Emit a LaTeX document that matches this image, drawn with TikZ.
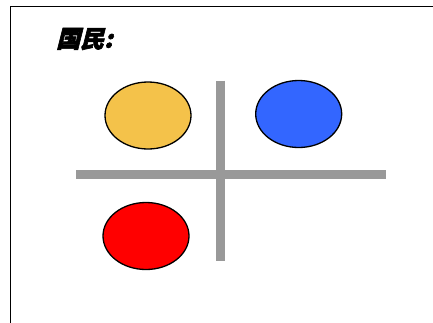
\documentclass[tikz,border=0pt]{standalone}
\usepackage{fontspec}
\newfontfamily\cjk[FakeSlant=0.25,FakeBold=2.5]{Noto Sans CJK SC}
\usetikzlibrary{shapes.geometric}
\definecolor{ballyellow}{HTML}{F4C24A}
\definecolor{ballblue}{HTML}{3366FF}
\definecolor{ballred}{HTML}{FF0000}
\definecolor{bargray}{HTML}{999999}
\begin{document}
\begin{tikzpicture}[x=1pt,y=-1pt,
  ball/.style={ellipse,draw=black,line width=1.3pt,minimum width=86pt,minimum height=67pt,inner sep=0pt},
  bar/.style={draw=bargray,line width=9pt},
  frame/.style={draw=black,line width=1.6pt}]
\useasboundingbox (0,0) rectangle (433,322);
\draw[frame] (10.5,330) -- (10.5,6.5) -- (440,6.5);
\node[anchor=west,inner sep=0pt,font=\cjk\bfseries\fontsize{24}{24}\selectfont] (title) at (56,39) {国民:};
\coordinate (vt) at (220.5,80.5);
\coordinate (vb) at (220.5,261);
\coordinate (hl) at (76,174.7);
\coordinate (hr) at (386,174.7);
\draw[bar] (vt) -- (vb);
\draw[bar] (hl) -- (hr);
\node[ball,fill=ballyellow] (yellow) at (148,115.5) {};
\node[ball,fill=ballblue] (blue) at (298.7,114) {};
\node[ball,fill=ballred] (red) at (146,236) {};
\end{tikzpicture}
\end{document}
